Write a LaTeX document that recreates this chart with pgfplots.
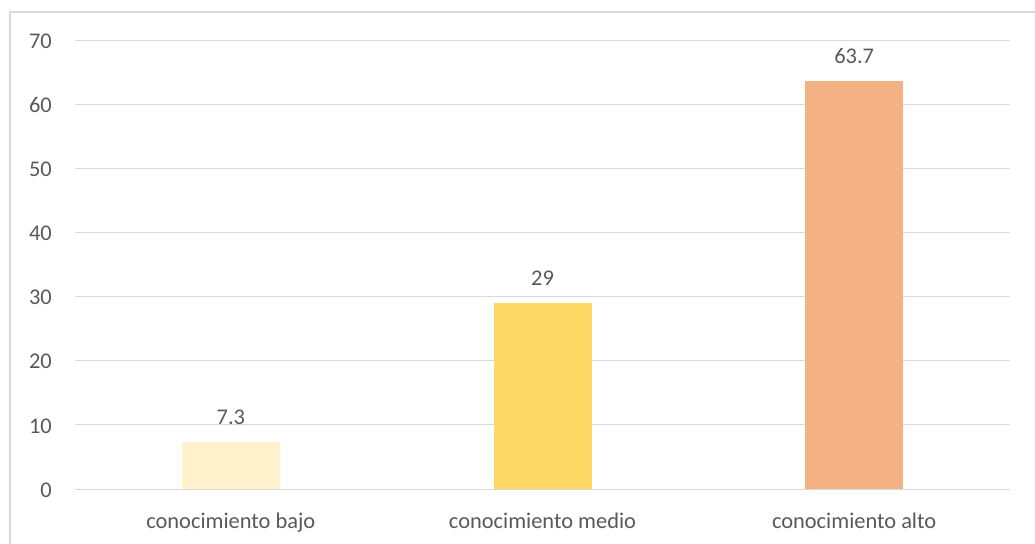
\documentclass[border=0pt]{standalone}
\usepackage{pgfplots}
\pgfplotsset{compat=1.18}
\usepackage{fontspec}
\setmainfont{Carlito}
\definecolor{txt}{HTML}{595959}
\definecolor{gridgray}{HTML}{D9D9D9}
\definecolor{bajo}{HTML}{FFF2CC}
\definecolor{medio}{HTML}{FFD966}
\definecolor{alto}{HTML}{F4B183}
\begin{document}
\begin{tikzpicture}
\path[use as bounding box] (-75bp,-55bp) rectangle (960bp,489bp);
\draw[gridgray, line width=1.2bp] (-65bp,-60bp) -- (-65bp,477bp) -- (970bp,477bp);
\begin{axis}[
  at={(0,0)}, anchor=south west,
  scale only axis,
  width=935bp, height=448bp,
  xmin=-0.5, xmax=2.5,
  ymin=0, ymax=70,
  ytick={0,10,...,70},
  xtick={0,1,2},
  xticklabels={conocimiento bajo, conocimiento medio, conocimiento alto},
  ymajorgrids, xmajorgrids=false,
  major grid style={draw=gridgray, line width=1bp},
  axis line style={draw=none},
  axis x line*=bottom,
  x axis line style={draw=gridgray, line width=1bp},
  major tick length=0pt,
  font=\fontsize{22.5}{26}\selectfont,
  tick label style={text=txt},
  yticklabel style={anchor=base east, inner sep=0pt, xshift=-23bp, yshift=-8bp},
  xticklabel style={anchor=base, inner sep=0pt, yshift=-39bp},
  ybar, bar width=98bp, bar shift=0pt,
  nodes near coords,
  every node near coord/.append style={anchor=base, inner sep=0pt, yshift=18bp, text=txt, font=\fontsize{22.5}{26}\selectfont},
  /pgf/number format/assume math mode=true,
]
\addplot[fill=bajo, draw=none] coordinates {(0,7.3)};
\addplot[fill=medio, draw=none] coordinates {(1,29)};
\addplot[fill=alto, draw=none] coordinates {(2,63.7)};
\end{axis}
\end{tikzpicture}
\end{document}
